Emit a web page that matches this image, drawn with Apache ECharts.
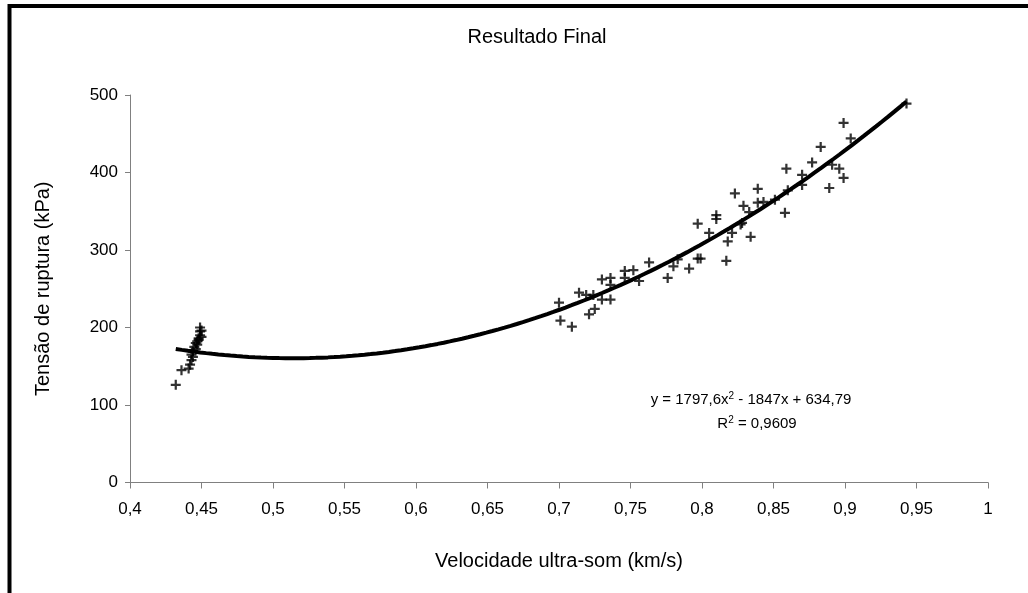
<!DOCTYPE html>
<html>
<head>
<meta charset="utf-8">
<title>Resultado Final</title>
<script src="https://cdn.jsdelivr.net/npm/echarts@6/dist/echarts.min.js"></script>
<style>
  html, body { margin: 0; padding: 0; background: #fff; }
  #chart { width: 1028px; height: 593px; }
</style>
</head>
<body>
<div id="chart"></div>
<script>
// Velocidade ultra-som (km/s) de cada corpo de prova
const velocidade = [
  0.432, 0.436, 0.441, 0.442, 0.443, 0.443, 0.444, 0.444, 0.445, 0.446,
  0.446, 0.447, 0.447, 0.448, 0.448, 0.449, 0.449, 0.449, 0.450, 0.450,
  0.700, 0.701, 0.709, 0.714, 0.719, 0.724, 0.721, 0.725, 0.730, 0.736,
  0.730, 0.736, 0.736, 0.746, 0.752, 0.746, 0.756, 0.763, 0.776, 0.780,
  0.783, 0.791, 0.797, 0.799, 0.797, 0.805, 0.810, 0.810, 0.817, 0.818,
  0.821, 0.827, 0.828, 0.834, 0.829, 0.833, 0.823, 0.839, 0.839, 0.843,
  0.851, 0.858, 0.860, 0.859, 0.870, 0.870, 0.877, 0.883, 0.889, 0.891,
  0.896, 0.899, 0.899, 0.904, 0.943
];
// Tensão de ruptura (kPa) correspondente
const tensao = [
  126, 145, 147, 152, 158, 165, 162, 169, 175, 172,
  180, 182, 178, 186, 184, 190, 195, 200, 196, 188,
  232, 209, 201, 245, 242, 242, 217, 224, 236, 236,
  262, 264, 255, 273, 274, 264, 260, 284, 264, 279,
  288, 276, 289, 289, 334, 322, 345, 340, 286, 311,
  322, 333, 335, 317, 357, 349, 373, 379, 361, 362,
  365, 348, 377, 405, 397, 384, 413, 433, 380, 410,
  405, 393, 464, 444, 489
];
// Linha de tendência polinomial: y = a·x² + b·x + c
const coefTendencia = [1797.6, -1847, 634.79];
const faixaTendencia = [0.432, 0.943];
const textoEquacao = ['y = 1797,6x', '2', ' - 1847x + 634,79'];
const textoR2 = ['R', '2', ' = 0,9609'];

const pontos = velocidade.map((v, i) => [v, tensao[i]]);

const curva = [];
const passos = 120;
for (let i = 0; i <= passos; i++) {
  const x = faixaTendencia[0] + (faixaTendencia[1] - faixaTendencia[0]) * i / passos;
  const y = coefTendencia[0] * x * x + coefTendencia[1] * x + coefTendencia[2];
  curva.push([x, y]);
}

function virgula(v) {
  return String(parseFloat(v.toFixed(2))).replace('.', ',');
}

const fonte = '"Liberation Sans", Arial, sans-serif';
const cruz = 'path://M3.5,0 L5.5,0 L5.5,3.5 L9,3.5 L9,5.5 L5.5,5.5 L5.5,9 L3.5,9 L3.5,5.5 L0,5.5 L0,3.5 L3.5,3.5 Z';

const chart = echarts.init(document.getElementById('chart'), null, { renderer: 'canvas' });
chart.setOption({
  backgroundColor: '#fff',
  animation: false,
  grid: { left: 130, right: 40, top: 95, bottom: 110.5, containLabel: false },
  xAxis: {
    type: 'value', min: 0.4, max: 1, interval: 0.05,
    name: 'Velocidade ultra-som (km/s)', nameLocation: 'middle', nameGap: 69,
    nameTextStyle: { fontFamily: fonte, fontSize: 20, color: '#000' },
    axisLine: { onZero: false, lineStyle: { color: '#808080', width: 1 } },
    axisTick: { show: true, inside: false, length: 6, lineStyle: { color: '#808080' } },
    axisLabel: { formatter: virgula, fontFamily: fonte, fontSize: 17, color: '#000', margin: 18 },
    splitLine: { show: false }
  },
  yAxis: {
    type: 'value', min: 0, max: 500, interval: 100,
    name: 'Tensão de ruptura (kPa)', nameLocation: 'middle', nameGap: 77,
    nameTextStyle: { fontFamily: fonte, fontSize: 20, color: '#000' },
    axisLine: { show: true, lineStyle: { color: '#808080', width: 1 } },
    axisTick: { show: true, inside: false, length: 5, lineStyle: { color: '#808080' } },
    axisLabel: { fontFamily: fonte, fontSize: 17, color: '#000', margin: 12 },
    splitLine: { show: false }
  },
  series: [
    {
      type: 'scatter', data: pontos, symbol: cruz, symbolSize: 10,
      itemStyle: { color: '#000' }, z: 2
    },
    {
      type: 'line', data: curva, showSymbol: false, smooth: false,
      lineStyle: { color: '#000', width: 4 }, z: 3
    }
  ],
  graphic: [
    {
      type: 'rect', silent: true, z: 10,
      shape: { x: 9.5, y: 6, width: 1200, height: 800 },
      style: { fill: 'none', stroke: '#000', lineWidth: 4 }
    },
    {
      type: 'text', x: 537, y: 37,
      style: {
        text: 'Resultado Final', fontFamily: fonte, fontSize: 20, fill: '#000',
        textAlign: 'center', textVerticalAlign: 'middle'
      }
    },
    {
      type: 'text', x: 751, y: 400,
      style: {
        text: '{n|' + textoEquacao[0] + '}{s|' + textoEquacao[1] + '}{n|' + textoEquacao[2] + '}',
        textAlign: 'center', textVerticalAlign: 'middle',
        rich: {
          n: { fontFamily: fonte, fontSize: 15, fill: '#000', lineHeight: 18 },
          s: { fontFamily: fonte, fontSize: 10, fill: '#000', lineHeight: 18, verticalAlign: 'top' }
        }
      }
    },
    {
      type: 'text', x: 757, y: 424,
      style: {
        text: '{n|' + textoR2[0] + '}{s|' + textoR2[1] + '}{n|' + textoR2[2] + '}',
        textAlign: 'center', textVerticalAlign: 'middle',
        rich: {
          n: { fontFamily: fonte, fontSize: 15, fill: '#000', lineHeight: 18 },
          s: { fontFamily: fonte, fontSize: 10, fill: '#000', lineHeight: 18, verticalAlign: 'top' }
        }
      }
    }
  ]
});
</script>
</body>
</html>
